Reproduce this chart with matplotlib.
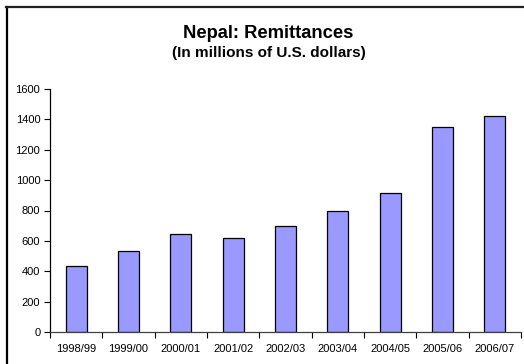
import numpy as np
import matplotlib.pyplot as plt
from matplotlib.lines import Line2D

plt.rcParams['font.family'] = ['Liberation Sans', 'DejaVu Sans']

years = ["1998/99", "1999/00", "2000/01", "2001/02", "2002/03",
         "2003/04", "2004/05", "2005/06", "2006/07"]
remittances = [437, 534, 644, 620, 699, 796, 912, 1353, 1424]
y_ticks = [0, 200, 400, 600, 800, 1000, 1200, 1400, 1600]

W, H = 524, 364
fig = plt.figure(figsize=(W / 100, H / 100), dpi=100)
ax = fig.add_axes([50 / W, (H - 332) / H, (521 - 50) / W, (332 - 89) / H])

x = np.arange(len(years))
ax.bar(x, remittances, width=0.4, color="#9999FF", edgecolor="black", linewidth=0.9)

ax.set_xlim(-0.5, len(years) - 0.5)
ax.set_ylim(0, 1600)
ax.set_yticks(y_ticks)
ax.set_xticks(x)
ax.set_xticklabels(years)
ax.set_xticks(np.arange(len(years) + 1) - 0.5, minor=True)
ax.tick_params(axis="x", which="major", length=0, pad=9, labelsize=8)
ax.tick_params(axis="x", which="minor", length=4, width=0.8, direction="out")
ax.tick_params(axis="y", length=4, width=0.8, labelsize=8, pad=3)
for side in ("top", "right"):
    ax.spines[side].set_visible(False)
ax.spines["left"].set_linewidth(0.9)
ax.spines["bottom"].set_linewidth(0.9)
ax.spines["bottom"].set_color("#404040")

fig.text(268 / W, 1 - 33 / H, "Nepal: Remittances", ha="center", va="center",
         fontsize=13.2, fontweight="bold")
fig.text(269 / W, 1 - 53 / H, "(In millions of U.S. dollars)", ha="center", va="center",
         fontsize=11, fontweight="bold")

# chart frame (left and top edges)
fig.add_artist(Line2D([7 / W, 7 / W], [0, 1 - 7 / H], color="black", linewidth=1.6,
                      transform=fig.transFigure))
fig.add_artist(Line2D([6 / W, 1], [1 - 7 / H, 1 - 7 / H], color="#222222", linewidth=1.6,
                      transform=fig.transFigure))

fig.savefig("out.png", dpi=100)
